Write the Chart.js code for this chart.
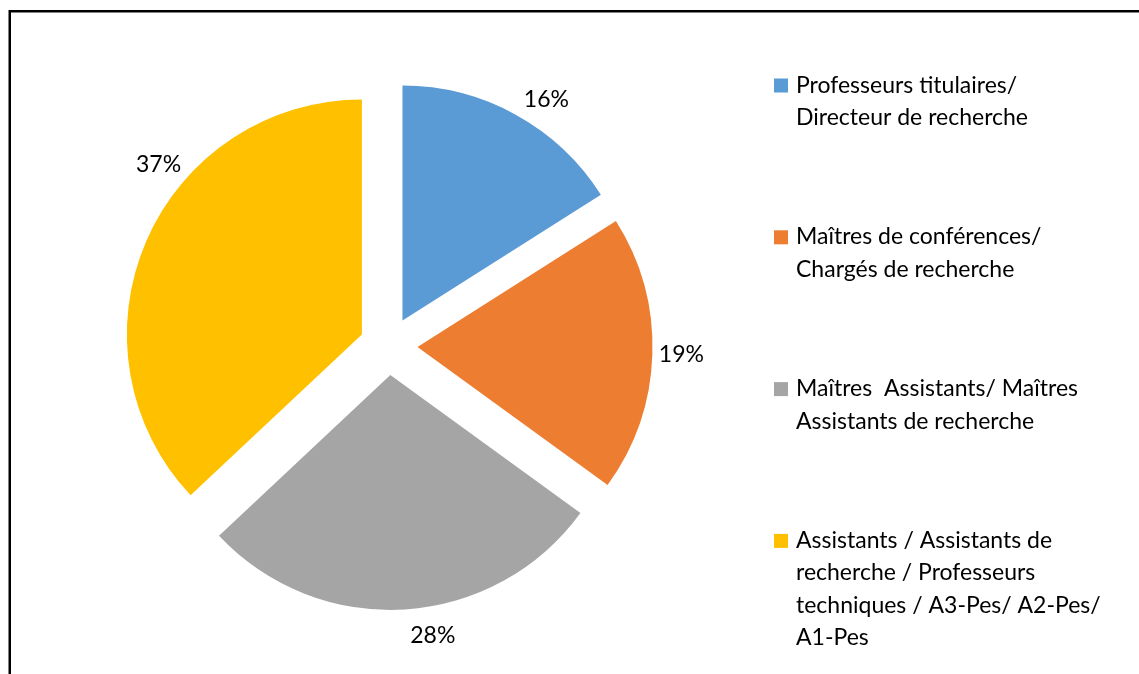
<!DOCTYPE html>
<html lang="fr">
  <head>
    <meta charset="UTF-8" />
    <title>Répartition par grade</title>
    <script src="https://cdn.jsdelivr.net/npm/chart.js"></script>
    <style>
      body {
        margin: 0;
        background-color: #ffffff;
      }
      #gradeChart {
        display: block;
      }
    </style>
  </head>
  <body>
    <canvas id="gradeChart" width="1139" height="674"></canvas>
    <script>
      // data (percent of staff per grade)
      const categories = [
        ["Professeurs titulaires/", "Directeur de recherche"],
        ["Maîtres de conférences/", "Chargés de recherche"],
        ["Maîtres  Assistants/ Maîtres", "Assistants de recherche"],
        ["Assistants / Assistants de", "recherche / Professeurs", "techniques / A3-Pes/ A2-Pes/", "A1-Pes"]
      ];
      const shares = [16, 19, 28, 37];
      const sliceColors = ["#5B9BD5", "#ED7D31", "#A5A5A5", "#FFC000"];

      const FONT = "23px Lato";

      // pulls every slice away from the centre along its middle angle
      const explodePlugin = {
        id: "explode",
        afterDatasetsUpdate(chart, args, opts) {
          const meta = chart.getDatasetMeta(0);
          meta.data.forEach(function (arc) {
            const mid = (arc.startAngle + arc.endAngle) / 2;
            arc.x += Math.cos(mid) * opts.distance;
            arc.y += Math.sin(mid) * opts.distance;
          });
        }
      };

      // percentage labels outside the slices
      const percentPlugin = {
        id: "percentLabels",
        afterDatasetsDraw(chart, args, opts) {
          const ctx = chart.ctx;
          const area = chart.chartArea;
          const cx = (area.left + area.right) / 2;
          const cy = (area.top + area.bottom) / 2;
          const values = chart.data.datasets[0].data;
          const total = values.reduce((a, b) => a + b, 0);
          const meta = chart.getDatasetMeta(0);
          ctx.save();
          ctx.font = FONT;
          ctx.fillStyle = "#000000";
          ctx.textAlign = "center";
          ctx.textBaseline = "middle";
          meta.data.forEach(function (arc, i) {
            const mid = (arc.startAngle + arc.endAngle) / 2 + (opts.nudge[i] || 0) * Math.PI / 180;
            const x = cx + Math.cos(mid) * opts.distance;
            const y = cy + Math.sin(mid) * opts.distance;
            ctx.fillText(Math.round(values[i] / total * 100) + "%", x, y);
          });
          ctx.restore();
        }
      };

      // legend on the right, square marker + wrapped lines
      const sideLegend = {
        id: "sideLegend",
        afterDraw(chart, args, opts) {
          const ctx = chart.ctx;
          const colors = chart.data.datasets[0].backgroundColor;
          ctx.save();
          ctx.font = FONT;
          ctx.textAlign = "left";
          ctx.textBaseline = "alphabetic";
          chart.data.labels.forEach(function (lines, i) {
            const top = opts.top + i * opts.step;
            ctx.fillStyle = colors[i];
            ctx.fillRect(opts.x, top, opts.box, opts.box);
            ctx.fillStyle = "#000000";
            lines.forEach(function (line, j) {
              ctx.fillText(line, opts.textX, top + opts.box + j * opts.lineHeight);
            });
          });
          ctx.restore();
        }
      };

      // outer frame (only top and left edges are in view)
      const framePlugin = {
        id: "frame",
        beforeDraw(chart) {
          const ctx = chart.ctx;
          ctx.save();
          ctx.strokeStyle = "#000000";
          ctx.lineWidth = 2.5;
          ctx.beginPath();
          ctx.moveTo(9.75, chart.height + 5);
          ctx.lineTo(9.75, 11.25);
          ctx.lineTo(chart.width + 5, 11.25);
          ctx.stroke();
          ctx.restore();
        }
      };

      const ctx = document.getElementById("gradeChart").getContext("2d");
      new Chart(ctx, {
        type: "pie",
        data: {
          labels: categories,
          datasets: [
            {
              data: shares,
              backgroundColor: sliceColors,
              borderWidth: 0
            }
          ]
        },
        options: {
          responsive: false,
          animation: false,
          radius: 235,
          layout: {
            padding: { left: 0, top: 18, right: 362, bottom: 0 }
          },
          plugins: {
            legend: { display: false },
            tooltip: { enabled: false },
            explode: { distance: 29 },
            percentLabels: { distance: 293, nudge: [3.8, -0.2, -5.1, 14.9] },
            sideLegend: { x: 774, top: 78.5, step: 151.8, box: 14, textX: 796, lineHeight: 32.5 }
          }
        },
        plugins: [framePlugin, explodePlugin, percentPlugin, sideLegend]
      });
    </script>
  </body>
</html>
